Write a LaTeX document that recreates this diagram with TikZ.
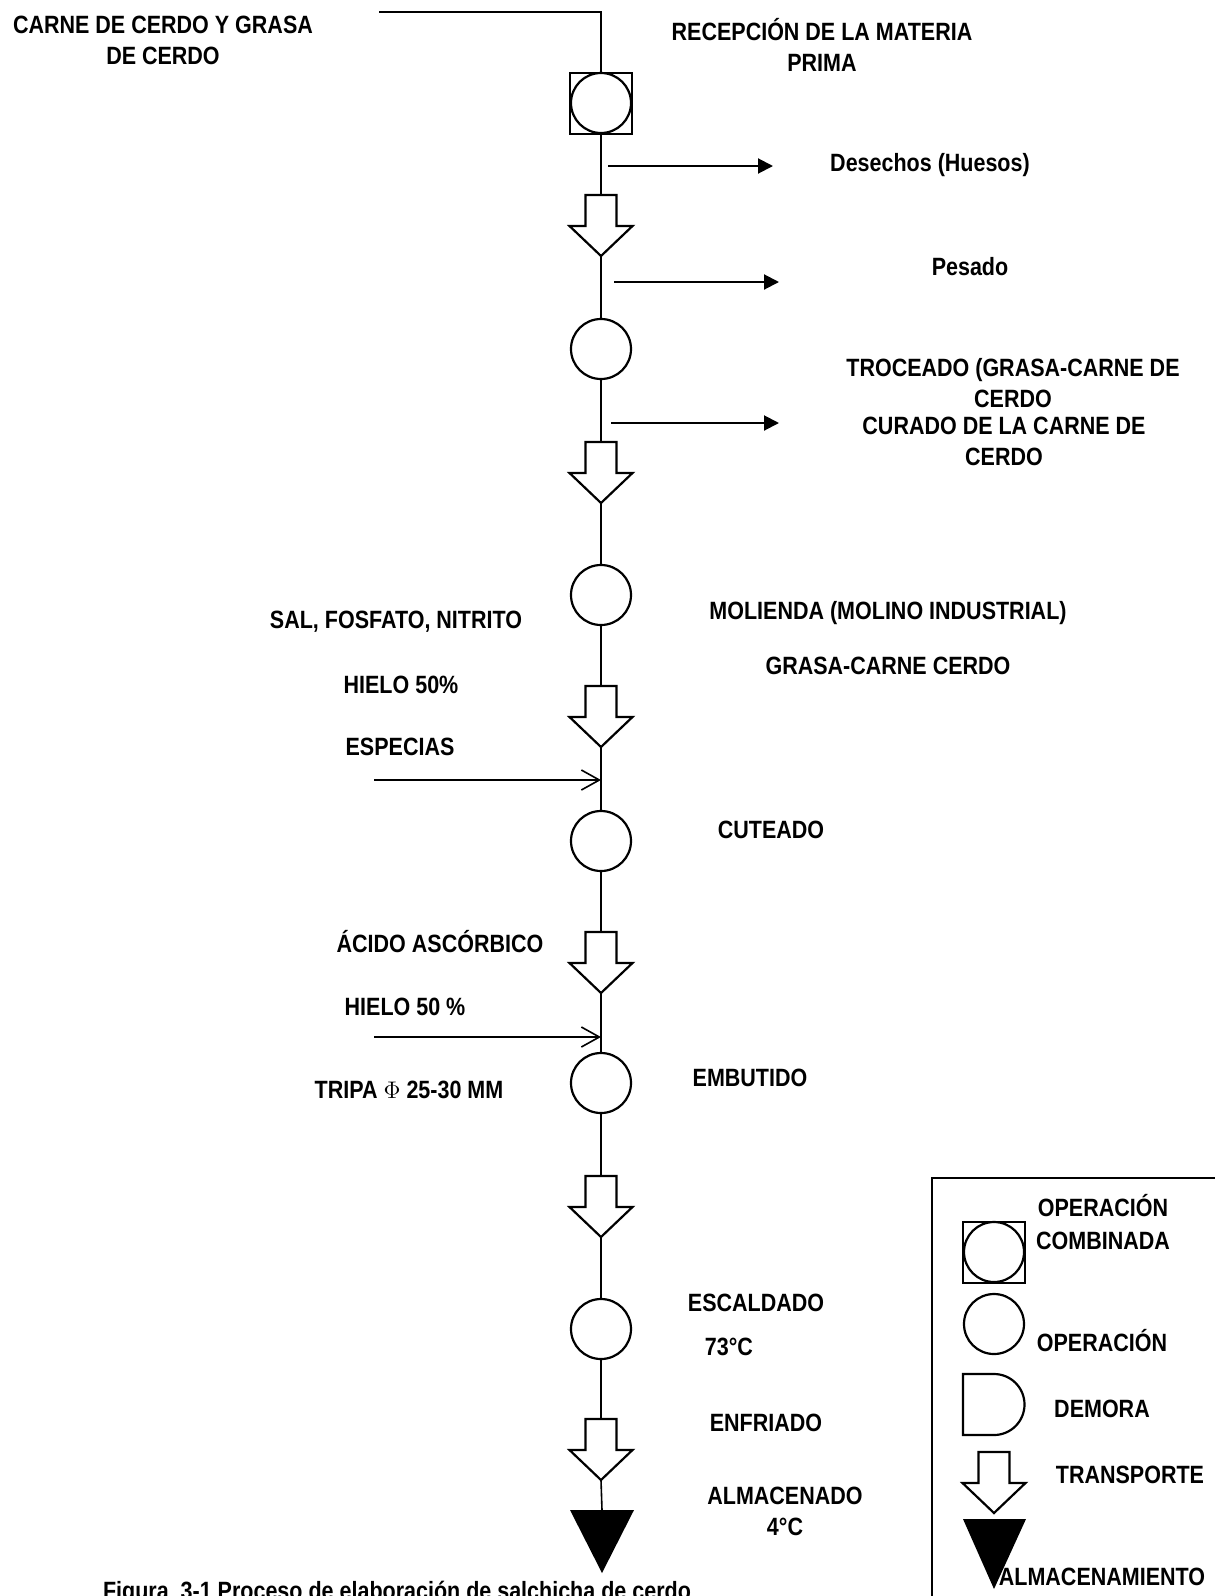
\documentclass[tikz,border=0pt]{standalone}
\usepackage{fontspec}
\setmainfont{Liberation Sans}[FakeStretch=0.86]
\usetikzlibrary{arrows.meta, positioning}

\newcommand{\lblfont}{\fontsize{12.5pt}{15.5pt}\selectfont\bfseries}
% transport symbol: name, x, y of the top
\newcommand{\transp}[3]{%
  \draw[trans] ({#2-15.5},#3) -- ({#2+15.5},#3) -- ({#2+15.5},{#3+31})
    -- ({#2+31.5},{#3+31}) -- (#2,{#3+61}) -- ({#2-31.5},{#3+31})
    -- ({#2-15.5},{#3+31}) -- cycle;
  \coordinate (#1-top) at (#2,#3);
  \coordinate (#1-tip) at (#2,{#3+61});}

\begin{document}
\begin{tikzpicture}[
    x=0.5pt, y=-0.5pt,
    every node/.style={font=\lblfont},
    lbl/.style={inner sep=0pt, align=center},
    op/.style={circle, draw, line width=1.1pt, minimum size=30pt, inner sep=0pt},
    comb/.style={rectangle, draw, line width=1pt, minimum width=31pt,
                 minimum height=30.5pt, inner sep=0pt},
    trans/.style={draw, fill=white, line width=1.1pt, line join=miter},
    flow/.style={line width=0.8pt},
    outarr/.style={-{Triangle[length=7.5pt, width=7.5pt]}, line width=1pt},
    inarr/.style={-{Straight Barb[length=9pt, width=10pt]}, line width=0.8pt},
  ]
    \useasboundingbox (0,0) rectangle (1215,1596);
    % process line
    \coordinate (src) at (379,12);
    \node[comb] (sq) at (601,103) {};
    \node[op] (sq-c) at (601,103) {};
    \foreach \n/\y in {t1/195, t2/442, t3/686, t4/932, t5/1176, t6/1419}{
      \transp{\n}{601}{\y}}
    \foreach \n/\y in {c2/349, c3/595, c4/841, c5/1083, c6/1329}{
      \node[op] (\n) at (601,\y) {};}
    \coordinate (alm-top) at (602,1510);
    \fill (570,1510) -- (634,1510) -- (602,1573) -- cycle;
    \draw[flow] (src) -| (sq.north);
    \foreach \a/\b in {sq.south/t1-top, t1-tip/c2.north, c2.south/t2-top,
        t2-tip/c3.north, c3.south/t3-top, t3-tip/c4.north, c4.south/t4-top,
        t4-tip/c5.north, c5.south/t5-top, t5-tip/c6.north, c6.south/t6-top,
        t6-tip/alm-top}
      \draw[flow] (\a) -- (\b);
    % outputs
    \foreach \k/\xa/\xb/\y in {1/608/773/166, 2/614/779/282, 3/611/779/423}{
      \coordinate (out\k a) at (\xa,\y);
      \coordinate (out\k b) at (\xb,\y);
      \draw[outarr] (out\k a) -- (out\k b);}
    % inputs
    \foreach \k/\y in {1/780, 2/1037}{
      \coordinate (in\k) at (374,\y);
      \draw[inarr] (in\k) -- (601,\y);}
    % labels
    \node[lbl] (carne) at (163,40.5) {CARNE DE CERDO Y GRASA\\DE CERDO};
    \node[lbl] (recep) at (822,44.5) {RECEPCIÓN DE LA MATERIA\\PRIMA};
    \node[lbl] (desech) at (930,165) {Desechos (Huesos)};
    \node[lbl] (pesado) at (970,267) {Pesado};
    \node[lbl] (troc) at (1013,383) {TROCEADO (GRASA-CARNE DE\\CERDO};
    \node[lbl] (curado) at (1004,441) {CURADO DE LA CARNE DE\\CERDO};
    \node[lbl] (molie) at (888,613) {MOLIENDA (MOLINO INDUSTRIAL)};
    \node[lbl] (grasa) at (888,666) {GRASA-CARNE CERDO};
    \node[lbl] (sal) at (396,622) {SAL, FOSFATO, NITRITO};
    \node[lbl] (hielo1) at (401,685) {HIELO 50\%};
    \node[lbl] (espec) at (400,747) {ESPECIAS};
    \node[lbl] (cutea) at (771,830) {CUTEADO};
    \node[lbl] (acido) at (440,942) {ÁCIDO ASCÓRBICO};
    \node[lbl] (hielo2) at (405,1007) {HIELO 50 \%};
    \node[lbl] (tripa) at (409,1090) {TRIPA $\Phi$ 25-30 MM};
    \node[lbl] (embut) at (750,1078) {EMBUTIDO};
    \node[lbl] (escal) at (756,1303) {ESCALDADO};
    \node[lbl] (temp1) at (729,1347) {73°C};
    \node[lbl] (enfr) at (766,1423) {ENFRIADO};
    \node[lbl] (almac) at (785,1511.5) {ALMACENADO\\4°C};
    \node[lbl, anchor=base] (cap) at (397,1599)
      {Figura\ \ 3-1 Proceso de elaboración de salchicha de cerdo};
    % legend
    \draw[line width=1pt] (932,1178) rectangle (1240,1650);
    \node[comb] (lsq) at (994,1252) {};
    \node[op] (lsq-c) at (994,1252) {};
    \node[op] (lop) at (994,1324) {};
    \draw[trans] (963,1374) -- (994,1374) arc[start angle=90, end angle=-90, radius=15.25pt]
      -- (963,1435) -- cycle;
    \transp{lt}{994}{1452}
    \fill (963,1519) -- (1026,1519) -- (994,1589) -- cycle;
    \node[lbl] (lcomb) at (1103,1222) {OPERACIÓN\\[1pt]COMBINADA};
    \node[lbl] (lopl) at (1102,1341) {OPERACIÓN};
    \node[lbl] (ldem) at (1102,1409) {DEMORA};
    \node[lbl] (ltra) at (1130,1475) {TRANSPORTE};
    \node[lbl] (lalm) at (1102,1577) {ALMACENAMIENTO};
\end{tikzpicture}
\end{document}
